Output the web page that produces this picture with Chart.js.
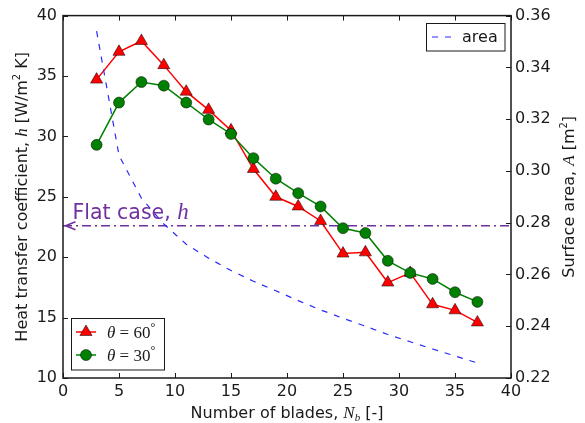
<!DOCTYPE html>
<html>
<head>
<meta charset="utf-8">
<script src="https://cdn.jsdelivr.net/npm/chart.js@4"></script>
<style>
  html, body { margin: 0; padding: 0; background: #ffffff; }
  #wrap { width: 585px; height: 423px; }
</style>
</head>
<body>
<div id="wrap"><canvas id="c" width="585" height="423"></canvas></div>
<script>
// ---- data ----
const blades = [3, 5, 7, 9, 11, 13, 15, 17, 19, 21, 23, 25, 27, 29, 31, 33, 35, 37];
const h60 = [34.7, 37.0, 37.9, 35.9, 33.7, 32.2, 30.5, 27.3, 25.0, 24.2, 23.0, 20.3, 20.4, 17.9, 18.7, 16.1, 15.6, 14.6];
const h30 = [29.3, 32.8, 34.5, 34.2, 32.8, 31.4, 30.2, 28.2, 26.5, 25.3, 24.2, 22.4, 22.0, 19.7, 18.7, 18.2, 17.1, 16.3];
const area = [0.354, 0.306, 0.2895, 0.2795, 0.2717, 0.2663, 0.2615, 0.2574, 0.2537, 0.2499, 0.2463, 0.2431, 0.2400, 0.2368, 0.2340, 0.2312, 0.2285, 0.2258];
const flatH = 22.6;
const flatX = [0, 40];
const xRange = [0, 40, 5];
const hRange = [10, 40, 5];
const aRange = [0.22, 0.36, 0.02];
const label60 = ['θ', ' = ', '60', '°'];
const label30 = ['θ', ' = ', '30', '°'];
const labelArea = 'area';
const flatText = ['Flat case, ', 'h'];
const xTitle = ['Number of blades, ', 'N', 'b', ' [-]'];
const yTitle = ['Heat transfer coefficient, ', 'h', ' [W/m', '2', ' K]'];
const y1Title = ['Surface area, ', 'A', ' [m', '2', ']'];

const C_RED = '#ff0000', C_GREEN = '#008000', C_BLUE = '#2a2aff', C_PURPLE = '#7030a0', C_INK = '#1a1a1a';
const SANS = "'DejaVu Sans', sans-serif";
const SERIF = "'Liberation Serif', 'DejaVu Serif', serif";

function toXY(xs, ys) { return xs.map((x, i) => ({ x: x, y: ys[i] })); }

function drawRich(ctx, segs, x, y, rot) {
  ctx.save();
  ctx.translate(x, y);
  ctx.rotate(rot || 0);
  ctx.textAlign = 'left';
  ctx.textBaseline = 'alphabetic';
  let w = 0;
  for (const s of segs) { ctx.font = s.f; w += ctx.measureText(s.t).width; }
  let cx = -w / 2;
  for (const s of segs) {
    ctx.font = s.f;
    ctx.fillStyle = s.c || C_INK;
    ctx.fillText(s.t, cx, s.dy || 0);
    cx += ctx.measureText(s.t).width;
  }
  ctx.restore();
}

function drawSegsLeft(ctx, segs, x, y) {
  ctx.save();
  ctx.textAlign = 'left';
  ctx.textBaseline = 'alphabetic';
  let cx = x;
  for (const s of segs) {
    ctx.font = s.f;
    ctx.fillStyle = s.c || C_INK;
    ctx.fillText(s.t, cx, y + (s.dy || 0));
    cx += ctx.measureText(s.t).width;
  }
  ctx.restore();
}

function mathLabel(parts) {
  return [
    { t: parts[0], f: 'italic 17px ' + SERIF },
    { t: parts[1], f: '17px ' + SERIF },
    { t: parts[2], f: '17px ' + SERIF },
    { t: parts[3], f: '12px ' + SERIF, dy: -7 }
  ];
}

const decor = {
  id: 'decor',
  afterDatasetsDraw(chart) {
    const ctx = chart.ctx;
    const xs = chart.scales.x, ys = chart.scales.y;
    // arrow head of flat line
    const tipX = xs.getPixelForValue(flatX[0]) + 2.5;
    const tipY = ys.getPixelForValue(flatH);
    ctx.save();
    ctx.strokeStyle = C_PURPLE;
    ctx.lineWidth = 1.5;
    ctx.beginPath();
    ctx.moveTo(tipX + 10, tipY - 4);
    ctx.lineTo(tipX, tipY);
    ctx.lineTo(tipX + 10, tipY + 4);
    ctx.stroke();
    ctx.restore();
    drawSegsLeft(ctx, [
      { t: flatText[0], f: '20.5px ' + SANS, c: C_PURPLE },
      { t: flatText[1], f: 'italic 23px ' + SERIF, c: C_PURPLE }
    ], 72.5, 218.5);
  },
  afterDraw(chart) {
    const ctx = chart.ctx;
    const a = chart.chartArea;
    const xs = chart.scales.x, ys = chart.scales.y, y1 = chart.scales.y1;
    ctx.save();
    // ticks (inward)
    ctx.strokeStyle = C_INK;
    ctx.lineWidth = 1;
    ctx.beginPath();
    xs.ticks.forEach(t => {
      const px = Math.round(xs.getPixelForValue(t.value)) + 0.5;
      ctx.moveTo(px, a.bottom); ctx.lineTo(px, a.bottom - 5);
      ctx.moveTo(px, a.top); ctx.lineTo(px, a.top + 5);
    });
    ys.ticks.forEach(t => {
      const py = Math.round(ys.getPixelForValue(t.value)) + 0.5;
      ctx.moveTo(a.left, py); ctx.lineTo(a.left + 5, py);
    });
    y1.ticks.forEach(t => {
      const py = Math.round(y1.getPixelForValue(t.value)) + 0.5;
      ctx.moveTo(a.right, py); ctx.lineTo(a.right - 5, py);
    });
    ctx.stroke();
    // frame
    ctx.lineWidth = 1.5;
    ctx.strokeRect(a.left, a.top, a.right - a.left, a.bottom - a.top);

    // legend 1 (bottom left)
    ctx.fillStyle = '#ffffff';
    ctx.fillRect(71, 318, 93.5, 52);
    ctx.lineWidth = 1;
    ctx.strokeStyle = C_INK;
    ctx.strokeRect(71.5, 318.5, 93, 51.5);
    const rows = [
      { y: 332, col: C_RED, shape: 'tri', lab: label60 },
      { y: 355, col: C_GREEN, shape: 'circ', lab: label30 }
    ];
    rows.forEach(r => {
      ctx.strokeStyle = r.col;
      ctx.lineWidth = 1.5;
      ctx.beginPath(); ctx.moveTo(76, r.y); ctx.lineTo(96, r.y); ctx.stroke();
      ctx.fillStyle = r.col;
      ctx.strokeStyle = '#000';
      ctx.lineWidth = 0.5;
      ctx.beginPath();
      if (r.shape === 'tri') {
        ctx.moveTo(86, r.y - 7); ctx.lineTo(92.1, r.y + 3.5); ctx.lineTo(79.9, r.y + 3.5); ctx.closePath();
      } else {
        ctx.arc(86, r.y, 5.5, 0, Math.PI * 2);
      }
      ctx.fill(); ctx.stroke();
      drawSegsLeft(ctx, mathLabel(r.lab), 107, r.y + 6);
    });

    // legend 2 (top right)
    ctx.fillStyle = '#ffffff';
    ctx.fillRect(426, 23, 79, 28);
    ctx.strokeStyle = C_INK;
    ctx.lineWidth = 1;
    ctx.strokeRect(426.5, 23.5, 78.5, 27.5);
    ctx.strokeStyle = C_BLUE;
    ctx.lineWidth = 1.2;
    ctx.setLineDash([6, 7]);
    ctx.beginPath(); ctx.moveTo(432, 37); ctx.lineTo(452, 37); ctx.stroke();
    ctx.setLineDash([]);
    ctx.fillStyle = C_INK;
    ctx.font = '16px ' + SANS;
    ctx.textAlign = 'left';
    ctx.textBaseline = 'alphabetic';
    ctx.fillText(labelArea, 462, 42);

    // axis titles
    const cy = (a.top + a.bottom) / 2;
    const cx = (a.left + a.right) / 2;
    drawRich(ctx, [
      { t: xTitle[0], f: '16px ' + SANS },
      { t: xTitle[1], f: 'italic 17px ' + SERIF },
      { t: xTitle[2], f: 'italic 11px ' + SERIF, dy: 3 },
      { t: xTitle[3], f: '16px ' + SANS }
    ], cx, 418, 0);
    drawRich(ctx, [
      { t: yTitle[0], f: '16px ' + SANS },
      { t: yTitle[1], f: 'italic 17px ' + SERIF },
      { t: yTitle[2], f: '16px ' + SANS },
      { t: yTitle[3], f: '10px ' + SANS, dy: -7 },
      { t: yTitle[4], f: '16px ' + SANS }
    ], 27, cy, -Math.PI / 2);
    drawRich(ctx, [
      { t: y1Title[0], f: '16px ' + SANS },
      { t: y1Title[1], f: 'italic 17px ' + SERIF },
      { t: y1Title[2], f: '16px ' + SANS },
      { t: y1Title[3], f: '10px ' + SANS, dy: -7 },
      { t: y1Title[4], f: '16px ' + SANS }
    ], 574, cy, -Math.PI / 2);
    ctx.restore();
  }
};

new Chart(document.getElementById('c'), {
  type: 'line',
  data: {
    datasets: [
      {
        label: labelArea, data: toXY(blades, area), yAxisID: 'y1',
        borderColor: C_BLUE, borderWidth: 1.2, borderDash: [6, 7],
        pointRadius: 0, fill: false, tension: 0
      },
      {
        label: 'θ = 30°', data: toXY(blades, h30), yAxisID: 'y',
        borderColor: C_GREEN, borderWidth: 1.5, backgroundColor: C_GREEN,
        pointStyle: 'circle', pointRadius: 5.5, pointBackgroundColor: C_GREEN,
        pointBorderColor: '#000', pointBorderWidth: 0.5, fill: false, tension: 0
      },
      {
        label: 'θ = 60°', data: toXY(blades, h60), yAxisID: 'y',
        borderColor: C_RED, borderWidth: 1.5, backgroundColor: C_RED,
        pointStyle: 'triangle', pointRadius: 7, pointBackgroundColor: C_RED,
        pointBorderColor: '#000', pointBorderWidth: 0.5, fill: false, tension: 0
      },
      {
        label: 'Flat case, h', data: flatX.map(x => ({ x: x, y: flatH })), yAxisID: 'y',
        borderColor: C_PURPLE, borderWidth: 1.5, borderDash: [9, 4, 2, 4],
        pointRadius: 0, fill: false
      }
    ]
  },
  options: {
    responsive: false,
    animation: false,
    devicePixelRatio: 1,
    layout: { padding: { top: 15, left: 0, right: 0, bottom: 0 } },
    plugins: { legend: { display: false }, tooltip: { enabled: false }, title: { display: false } },
    scales: {
      x: {
        type: 'linear', position: 'bottom', min: xRange[0], max: xRange[1],
        ticks: { stepSize: xRange[2], font: { family: SANS, size: 16 }, color: C_INK, padding: 4, maxRotation: 0 },
        grid: { display: false, drawTicks: false }, border: { display: false },
        afterFit(s) { s.height = 45; }
      },
      y: {
        type: 'linear', position: 'left', min: hRange[0], max: hRange[1],
        ticks: { stepSize: hRange[2], font: { family: SANS, size: 16 }, color: C_INK, padding: 6 },
        grid: { display: false, drawTicks: false }, border: { display: false },
        afterFit(s) { s.width = 63; }
      },
      y1: {
        type: 'linear', position: 'right', min: aRange[0], max: aRange[1],
        ticks: { stepSize: aRange[2], font: { family: SANS, size: 16 }, color: C_INK, padding: 4,
                 callback: v => v.toFixed(2) },
        grid: { display: false, drawTicks: false }, border: { display: false },
        afterFit(s) { s.width = 74; }
      }
    }
  },
  plugins: [decor]
});
</script>
</body>
</html>
